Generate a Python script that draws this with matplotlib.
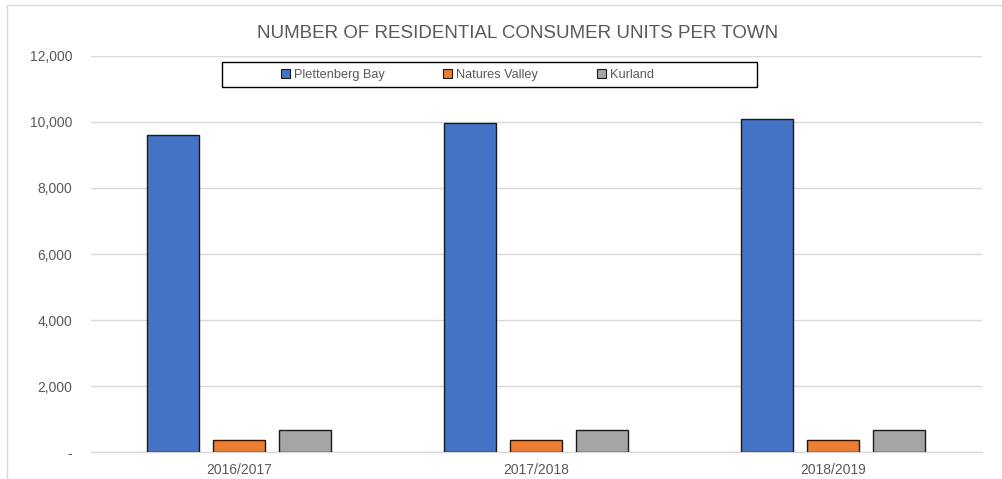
import matplotlib
matplotlib.use("Agg")
import matplotlib.pyplot as plt
from matplotlib.patches import Rectangle
from matplotlib.ticker import FuncFormatter
import numpy as np

plt.rcParams['font.family'] = ['Liberation Sans', 'DejaVu Sans']

categories = ["2016/2017", "2017/2018", "2018/2019"]
series_names = ["Plettenberg Bay", "Natures Valley", "Kurland"]
plettenberg = [9600, 9970, 10090]
natures_valley = [380, 380, 380]
kurland = [660, 660, 660]
colors = ["#4472C4", "#ED7D31", "#A5A5A5"]
yticks = [0, 2000, 4000, 6000, 8000, 10000, 12000]

W, H = 1002, 479
fig = plt.figure(figsize=(W / 100, H / 100), dpi=100)
fig.patch.set_facecolor("white")

# chart border (left and top visible)
fig.add_artist(plt.Line2D([6.5 / W, 6.5 / W], [0, 1 - 5 / H], transform=fig.transFigure,
                          color="#d9d9d9", lw=1.0))
fig.add_artist(plt.Line2D([6.5 / W, 1], [1 - 5 / H, 1 - 5 / H], transform=fig.transFigure,
                          color="#d9d9d9", lw=1.0))

left, right = 90.5 / W, 981.5 / W
bottom = (H - 452.3) / H
top = (H - 55.7) / H
ax = fig.add_axes([left, bottom, right - left, top - bottom])

x = np.arange(len(categories))
width = 0.175
offset = 0.222
data = [plettenberg, natures_valley, kurland]
for i, (vals, name, c) in enumerate(zip(data, series_names, colors)):
    ax.bar(x + (i - 1) * offset, vals, width, color=c, edgecolor="#1a1a1a",
           linewidth=1.0, label=name, zorder=3)

ax.set_xlim(-0.5, len(categories) - 0.5)
ax.set_ylim(0, 12000)
ax.set_yticks(yticks)
ax.yaxis.set_major_formatter(FuncFormatter(lambda v, p: "-" if v == 0 else f"{int(v):,}"))
ax.set_xticks(x)
ax.set_xticklabels(categories)
ax.grid(axis="y", color="#d9d9d9", lw=1.0, zorder=0)
ax.set_axisbelow(True)
for s in ["top", "right", "left"]:
    ax.spines[s].set_visible(False)
ax.spines["bottom"].set_color("#d9d9d9")
ax.spines["bottom"].set_linewidth(1.0)
ax.tick_params(axis="both", length=0, labelsize=10, colors="#595959")
ax.tick_params(axis="y", pad=13)
ax.tick_params(axis="x", pad=8)

fig.text(518 / W, 1 - 33 / H, "NUMBER OF RESIDENTIAL CONSUMER UNITS PER TOWN",
         ha="center", va="center", fontsize=13.5, color="#595959")

# legend box
fig.add_artist(Rectangle((222 / W, 1 - 87 / H), (757 - 222) / W, 25 / H,
                         transform=fig.transFigure, fill=False, edgecolor="black", lw=1.0))
leg = fig.legend(*ax.get_legend_handles_labels(), loc="center left",
                 bbox_to_anchor=(281 / W, 1 - 75 / H),
                 ncol=3, fontsize=9.2, frameon=False,
                 handlelength=0.7, handleheight=0.7, handletextpad=0.3, columnspacing=4.6,
                 borderpad=0, borderaxespad=0, labelcolor="#595959")
for h in leg.legend_handles:
    h.set_linewidth(0.8)

fig.savefig("out.png", dpi=100)
